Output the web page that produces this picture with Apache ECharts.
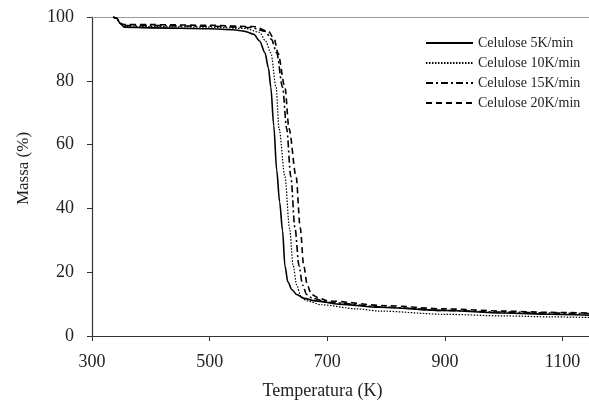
<!DOCTYPE html>
<html>
<head>
<meta charset="utf-8">
<script src="https://cdn.jsdelivr.net/npm/echarts@6/dist/echarts.min.js"></script>
<style>
  html, body { margin: 0; padding: 0; background: #fff; }
  #chart { width: 589px; height: 405px; }
</style>
</head>
<body>
<div id="chart"></div>
<script>
// Celulose 5K/min
const t5 = [336, 342, 348, 355, 400, 500, 540, 560, 575, 585, 594, 600, 604, 609, 614, 619, 624, 628, 633, 640, 648, 660, 680, 720, 790, 900, 1000, 1080, 1145]
const m5 = [100, 99.6, 98, 96.8, 96.6, 96.3, 96, 95.5, 94.6, 92.5, 88.8, 84, 78, 66, 52, 42, 33, 22, 17, 14.5, 13, 11.8, 11, 10, 9, 8, 7.2, 6.8, 6.5]
// Celulose 10K/min
const t10 = [336, 342, 348, 355, 400, 500, 560, 585, 595, 604, 613, 618, 628, 636, 642, 648, 655, 665, 690, 750, 790, 900, 1000, 1080, 1145]
const m10 = [100, 99.6, 98, 97, 97, 96.8, 96.4, 95.2, 92.5, 88.8, 78, 65, 50, 33.6, 22, 16, 12.5, 11, 9.8, 8.5, 7.8, 6.8, 6.3, 6, 5.8]
// Celulose 15K/min
const t15 = [336, 342, 348, 355, 400, 500, 570, 595, 605, 614, 624, 631, 638, 645, 652, 658, 665, 675, 700, 800, 900, 1000, 1080, 1145]
const m15 = [100, 99.6, 98, 97.3, 97.3, 97.1, 96.7, 95.5, 93, 88.8, 78, 65, 50, 34, 22, 16, 13, 11.8, 10.6, 9, 8, 7.5, 7.2, 7]
// Celulose 20K/min
const t20 = [336, 342, 348, 355, 400, 500, 575, 600, 610, 616, 628, 635, 647, 654, 660, 666, 673, 685, 700, 800, 900, 1000, 1080, 1145]
const m20 = [100, 99.6, 98, 97.6, 97.6, 97.4, 97, 95.5, 93, 88.8, 78, 65, 50, 34, 22, 16, 13, 12, 11, 9.5, 8.5, 7.8, 7.4, 7.2]

const names = ['Celulose 5K/min', 'Celulose 10K/min', 'Celulose 15K/min', 'Celulose 20K/min']
const xTicks = [300, 500, 700, 900, 1100]

const serif = '"Liberation Serif", "DejaVu Serif", serif'

function pairs(t, m) {
  return t.map((v, i) => [v, m[i]])
}

const chart = echarts.init(document.getElementById('chart'))

function lineSeries(name, t, m, style) {
  return {
    name: name,
    type: 'line',
    symbol: 'none',
    smooth: 0.3,
    smoothMonotone: 'x',
    lineStyle: Object.assign({ color: '#000', width: 1.5 }, style),
    itemStyle: { color: '#000' },
    data: pairs(t, m),
  }
}

const option = {
  animation: false,
  backgroundColor: '#fff',
  grid: {
    left: 92,
    right: 0,
    top: 17,
    bottom: 67,
  },
  legend: {
    orient: 'vertical',
    left: 425,
    top: 36,
    padding: 0,
    itemWidth: 47,
    itemHeight: 10,
    itemGap: 6,
    itemStyle: { opacity: 0 },
    textStyle: {
      fontFamily: serif,
      fontSize: 14,
      color: '#222',
    },
    data: names,
  },
  xAxis: [
    {
      type: 'value',
      min: 300,
      max: 1145,
      interval: 200,
      name: 'Temperatura (K)',
      nameLocation: 'middle',
      nameGap: 46,
      nameTextStyle: { fontFamily: serif, fontSize: 18, color: '#222', padding: [0, 36, 0, 0] },
      axisLine: { show: true, lineStyle: { color: '#333', width: 1.2 } },
      axisTick: { show: true, inside: false, length: 5, lineStyle: { color: '#333' }, customValues: xTicks },
      axisLabel: {
        margin: 17,
        fontFamily: serif,
        fontSize: 18,
        color: '#222',
        customValues: xTicks,
        formatter: v => String(v),
      },
      splitLine: { show: false },
    },
    {
      // top frame line
      type: 'value',
      position: 'top',
      min: 300,
      max: 1145,
      axisLine: { show: true, lineStyle: { color: '#999', width: 1 } },
      axisTick: { show: false },
      axisLabel: { show: false },
      splitLine: { show: false },
    },
  ],
  yAxis: {
    type: 'value',
    min: 0,
    max: 100,
    interval: 20,
    name: 'Massa (%)',
    nameLocation: 'middle',
    nameGap: 60,
    nameTextStyle: { fontFamily: serif, fontSize: 17, color: '#222', padding: [0, 0, 0, 16] },
    axisLine: { show: true, lineStyle: { color: '#333', width: 1.2 } },
    axisTick: { show: true, inside: false, length: 5, lineStyle: { color: '#333' } },
    axisLabel: {
      margin: 18,
      fontFamily: serif,
      fontSize: 18,
      color: '#222',
    },
    splitLine: { show: false },
  },
  series: [
    lineSeries(names[0], t5, m5, { type: 'solid', width: 1.6 }),
    lineSeries(names[1], t10, m10, { type: [1.5, 1.5], width: 1.2 }),
    lineSeries(names[2], t15, m15, { type: [7, 3, 2, 3], width: 1.6 }),
    lineSeries(names[3], t20, m20, { type: [6, 4], width: 1.6 }),
  ],
}

chart.setOption(option)
</script>
</body>
</html>
